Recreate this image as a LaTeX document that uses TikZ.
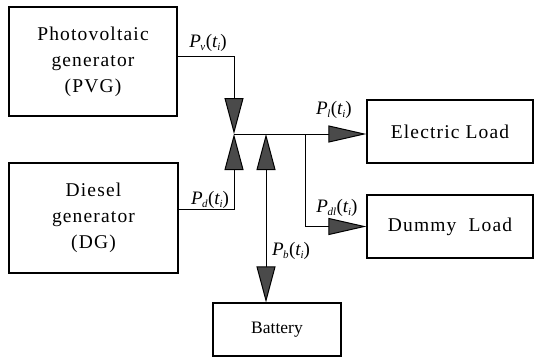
\documentclass[tikz,border=0pt]{standalone}
\usepackage{fontspec}
\setmainfont{Liberation Serif}
\usetikzlibrary{arrows.meta}
\definecolor{tipgray}{HTML}{4A4A4A}
\newcommand{\boxfont}{\addfontfeature{LetterSpace=6}\fontsize{19.5}{26}\selectfont}
\newcommand{\battfont}{\fontsize{17.5}{20}\selectfont}
\newcommand{\lblfont}{\fontsize{19}{20}\selectfont}
\newcommand{\pw}[2]{\textit{P}\kern-0.5pt\raisebox{-3pt}{\fontsize{11}{11}\selectfont\textit{#1}}\kern0.5pt(\textit{t}\kern-0.5pt\raisebox{-3pt}{\fontsize{11}{11}\selectfont\textit{#2}})}
\tikzset{
  box/.style={draw, line width=1.1pt, align=center, inner sep=0pt, font=\boxfont},
  wire/.style={line width=1pt},
  bigtip/.tip={Triangle[width=19pt,length=36pt,fill=tipgray]},
  midtip/.tip={Triangle[width=17pt,length=38pt,fill=tipgray]},
  lbl/.style={font=\lblfont, inner sep=0pt}
}
\begin{document}
\begin{tikzpicture}[x=1pt,y=-1pt]
\useasboundingbox (0,0) rectangle (535,361);
\node[box, minimum width=168pt, minimum height=109pt] (pvg) at (93,61.5) {Photovoltaic\\generator\\(PVG)};
\node[box, minimum width=169pt, minimum height=110pt] (dg) at (93.5,218) {Diesel\\generator\\(DG)};
\node[box, font=\battfont, minimum width=128pt, minimum height=53pt] (batt) at (277,329.5) {Battery};
\node[box, minimum width=166pt, minimum height=63pt] (el) at (450,131.5) {Electric Load};
\node[box, minimum width=166pt, minimum height=63pt] (dl) at (450,226.5) {Dummy\ \ Load};
\coordinate (j) at (234,134);
\coordinate (br) at (305,134);
\coordinate (bj) at (266,134);
\draw[wire, -bigtip] ([yshift=4.5pt]pvg.east) -| (j);
\draw[wire, -bigtip] ([yshift=9pt]dg.east) -| (j);
\draw[wire, -midtip] (j) -- (el.west |- j);
\draw[wire, -midtip] (br) |- (dl.west);
\draw[wire, bigtip-bigtip] (batt.north -| bj) -- (bj);
\node[lbl] (lv) at (208,43) {\pw{v}{i}};
\node[lbl] (ld) at (210,200) {\pw{d}{i}};
\node[lbl] (ll) at (334,110) {\pw{l}{i}};
\node[lbl] (ldl) at (337,208) {\pw{dl}{i}};
\node[lbl] (lb) at (291,251) {\pw{b}{i}};
\end{tikzpicture}
\end{document}
